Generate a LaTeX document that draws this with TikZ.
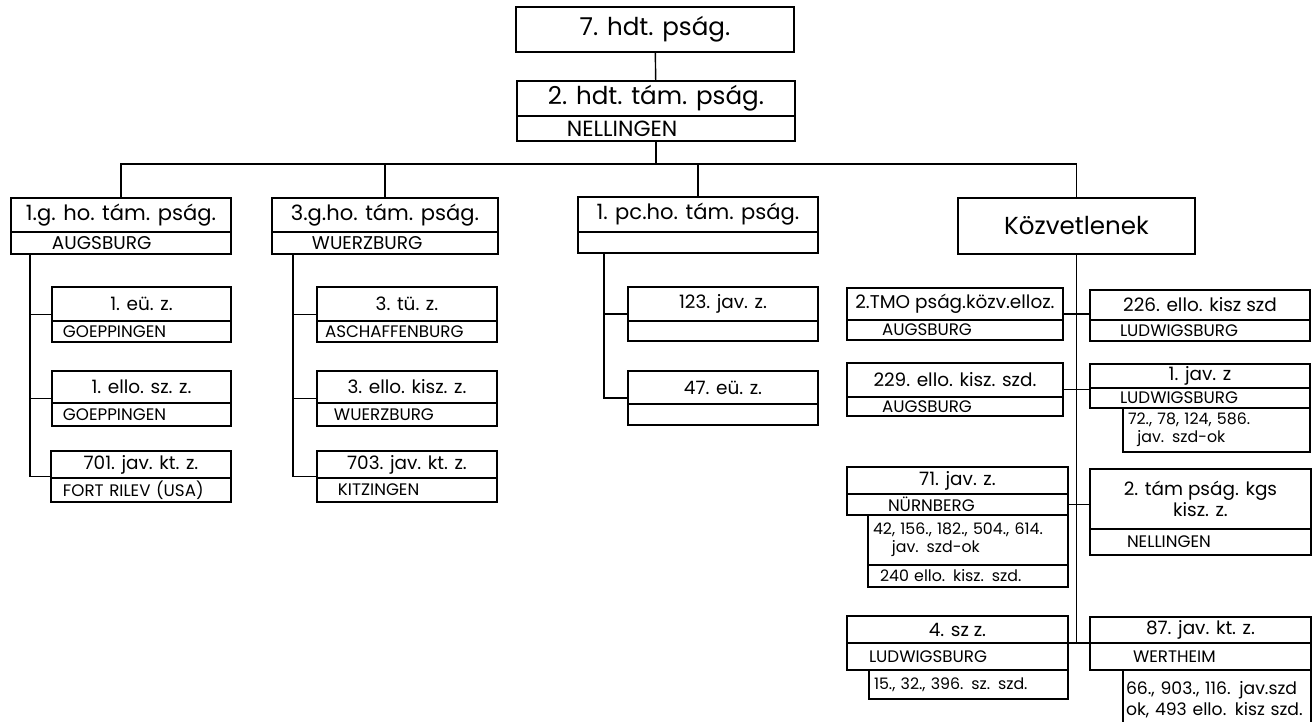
\documentclass[tikz,border=0pt]{standalone}
\usepackage{fontspec}
\setmainfont{Poppins}
\usetikzlibrary{positioning,fit}

\begin{document}
\begin{tikzpicture}[
    x=0.02cm, y=-0.02cm,
    box/.style={draw, line width=1.1pt, outer sep=0pt, anchor=north west,
        inner xsep=2pt, inner ysep=0pt, align=center},
    top/.style={box, font=\fontsize{14}{15}\selectfont},
    grp/.style={box, font=\fontsize{12}{13}\selectfont},
    unit/.style={box, font=\fontsize{10.5}{12}\selectfont},
    loc/.style={box, align=left, font=\fontsize{9.5}{11}\selectfont},
    grploc/.style={loc, font=\fontsize{10.5}{12}\selectfont},
    nums/.style={box, anchor=north east, align=left, inner xsep=0.1cm,
        font=\fontsize{9}{10.5}\selectfont},
    wrap/.style={fit=#1, inner sep=0pt, outer sep=0pt},
    wire/.style={line width=0.8pt},
]
\useasboundingbox (0,0) rectangle (1312,722);
\clip (0,0) rectangle (1312,722);

% ---------- top of the tree ----------
\node[top, minimum width=5.56cm, minimum height=0.9cm] (top7) at (516,7) {7. hdt. pság.};
\node[top, minimum width=5.56cm, minimum height=0.7cm] (hdt2) at (517,81) {2. hdt. tám. pság.};
\node[grploc, inner xsep=1.0cm, text width=3.56cm, minimum height=0.5cm,
    font=\fontsize{12.5}{13}\selectfont] (hdt2l) at (hdt2.south west) {NELLINGEN};
\draw[wire] (top7) -- (hdt2);
\coordinate (bus) at ([yshift=-0.46cm]hdt2l.south);
\draw[wire] (hdt2l) -- (bus);

% ---------- group heads ----------
\node[grp, minimum width=4.4cm, minimum height=0.68cm] (g1) at (11,198) {1.g. ho. tám. pság.};
\node[grploc, inner xsep=0.82cm, text width=2.76cm, minimum height=0.44cm] (g1l) at (g1.south west) {AUGSBURG};

\node[grp, minimum width=4.52cm, minimum height=0.68cm] (g3) at (272,198) {3.g.ho. tám. pság.};
\node[grploc, inner xsep=0.8cm, text width=2.92cm, minimum height=0.44cm] (g3l) at (g3.south west) {WUERZBURG};

\node[grp, minimum width=4.8cm, minimum height=0.7cm] (pc1) at (578,197) {1. pc.ho. tám. pság.};
\node[grploc, inner xsep=0.5cm, text width=3.8cm, minimum height=0.42cm] (pc1l) at (pc1.south west) {};

\node[top, minimum width=4.74cm, minimum height=1.12cm] (kozv) at (958,198) {Közvetlenek};

\draw[wire] (g1.north) |- (bus) -| (kozv.north);
\draw[wire] (g3.north) -- (g3.north |- bus);
\draw[wire] (pc1.north) -- (pc1.north |- bus);

% ---------- 1.g.ho column ----------
\node[unit, minimum width=3.58cm, minimum height=0.68cm] (e1) at (52,287) {1. eü. z.};
\node[loc, inner xsep=0.22cm, text width=3.14cm, minimum height=0.42cm] (e1l) at (e1.south west) {GOEPPINGEN};
\node[unit, minimum width=3.58cm, minimum height=0.64cm] (s1) at (52,371) {1. ello. sz. z.};
\node[loc, inner xsep=0.22cm, text width=3.14cm, minimum height=0.46cm] (s1l) at (s1.south west) {GOEPPINGEN};
\node[unit, minimum width=3.6cm, minimum height=0.54cm] (k701) at (51,451) {701. jav. kt. z.};
\node[loc, inner xsep=0.24cm, text width=3.12cm, minimum height=0.48cm] (k701l) at (k701.south west) {FORT RILEV (USA)};
\node[wrap=(e1)(e1l)] (e1f) {};
\node[wrap=(s1)(s1l)] (s1f) {};
\node[wrap=(k701)(k701l)] (k701f) {};

\coordinate (tr1) at ([xshift=0.38cm]g1l.south west);
\draw[wire] (tr1) |- (k701f.west);
\draw[wire] (tr1 |- e1f.west) -- (e1f.west);
\draw[wire] (tr1 |- s1f.west) -- (s1f.west);

% ---------- 3.g.ho column ----------
\node[unit, minimum width=3.6cm, minimum height=0.68cm] (t3) at (317,287) {3. tü. z.};
\node[loc, inner xsep=0.16cm, text width=3.28cm, minimum height=0.42cm] (t3l) at (t3.south west) {ASCHAFFENBURG};
\node[unit, minimum width=3.6cm, minimum height=0.64cm] (k3) at (317,371) {3. ello. kisz. z.};
\node[loc, inner xsep=0.34cm, text width=2.92cm, minimum height=0.46cm] (k3l) at (k3.south west) {WUERZBURG};
\node[unit, minimum width=3.6cm, minimum height=0.54cm] (k703) at (317,451) {703. jav. kt. z.};
\node[loc, inner xsep=0.42cm, text width=2.76cm, minimum height=0.48cm] (k703l) at (k703.south west) {KITZINGEN};
\node[wrap=(t3)(t3l)] (t3f) {};
\node[wrap=(k3)(k3l)] (k3f) {};
\node[wrap=(k703)(k703l)] (k703f) {};

\coordinate (tr2) at ([xshift=0.42cm]g3l.south west);
\draw[wire] (tr2) |- (k703f.west);
\draw[wire] (tr2 |- t3f.west) -- (t3f.west);
\draw[wire] (tr2 |- k3f.west) -- (k3f.west);

% ---------- 1.pc.ho column ----------
\node[unit, minimum width=3.8cm, minimum height=0.68cm] (j123) at (628,287) {123. jav. z.};
\node[loc, inner xsep=0.3cm, text width=3.2cm, minimum height=0.4cm] (j123l) at (j123.south west) {};
\node[unit, minimum width=3.8cm, minimum height=0.66cm] (e47) at (628,371) {47. eü. z.};
\node[loc, inner xsep=0.3cm, text width=3.2cm, minimum height=0.42cm] (e47l) at (e47.south west) {};
\node[wrap=(j123)(j123l)] (j123f) {};
\node[wrap=(e47)(e47l)] (e47f) {};

\coordinate (tr3) at ([xshift=0.52cm]pc1l.south west);
\draw[wire] (tr3) |- (e47f.west);
\draw[wire] (tr3 |- j123f.west) -- (j123f.west);

% ---------- Közvetlenek ----------
\node[unit, minimum width=4.32cm, minimum height=0.64cm] (tmo) at (847,288) {2.TMO pság.közv.elloz.};
\node[loc, inner xsep=0.7cm, text width=2.92cm, minimum height=0.4cm] (tmol) at (tmo.south west) {AUGSBURG};
\node[unit, minimum width=4.4cm, minimum height=0.6cm] (k226) at (1090,290) {226. ello. kisz szd};
\node[loc, inner xsep=0.6cm, text width=3.2cm, minimum height=0.42cm] (k226l) at (k226.south west) {LUDWIGSBURG};

\node[unit, minimum width=4.32cm, minimum height=0.68cm] (k229) at (847,363) {229. ello. kisz. szd.};
\node[loc, inner xsep=0.7cm, text width=2.92cm, minimum height=0.38cm] (k229l) at (k229.south west) {AUGSBURG};
\node[unit, minimum width=4.4cm, minimum height=0.48cm] (j1) at (1090,364) {1. jav. z};
\node[loc, inner xsep=0.6cm, text width=3.2cm, minimum height=0.4cm] (j1l) at (j1.south west) {LUDWIGSBURG};
\node[nums, text width=3.54cm, minimum height=0.88cm] (j1n) at (j1l.south east) {72., 78, 124, 586.\\\hspace*{0.6em}jav. szd-ok};

\node[unit, minimum width=4.42cm, minimum height=0.54cm] (j71) at (847,467) {71. jav. z.};
\node[loc, inner xsep=0.82cm, text width=2.78cm, minimum height=0.42cm] (j71l) at (j71.south west) {NÜRNBERG};
\node[nums, text width=3.8cm, minimum height=1.0cm] (j71n) at (j71l.south east) {42, 156., 182., 504., 614.\\\hspace*{1.2em}jav. szd-ok};
\node[nums, inner xsep=0.24cm, text width=3.52cm, minimum height=0.44cm] (j71k) at (j71n.south east) {240 ello. kisz. szd.};
\node[unit, minimum width=4.42cm, minimum height=1.2cm] (tam2) at (1090,469) {2. tám pság. kgs\\kisz. z.};
\node[loc, inner xsep=0.74cm, text width=2.94cm, minimum height=0.52cm] (tam2l) at (tam2.south west) {NELLINGEN};

\node[unit, minimum width=4.42cm, minimum height=0.54cm] (sz4) at (847,616) {4. sz z.};
\node[loc, inner xsep=0.44cm, text width=3.54cm, minimum height=0.54cm] (sz4l) at (sz4.south west) {LUDWIGSBURG};
\node[nums, text width=3.78cm, minimum height=0.58cm] (sz4n) at (sz4l.south east) {15., 32., 396. sz. szd.};
\node[unit, minimum width=4.42cm, minimum height=0.52cm] (j87) at (1090,617) {87. jav. kt. z.};
\node[loc, inner xsep=0.86cm, text width=2.7cm, minimum height=0.54cm] (j87l) at (j87.south west) {WERTHEIM};
\node[nums, inner xsep=0.06cm, text width=3.64cm, minimum height=1.2cm,
    font=\fontsize{9.8}{12}\selectfont] (j87n) at (j87l.south east) {66., 903., 116. jav.szd\\ok, 493 ello. kisz szd.};

\node[wrap=(tmo)(tmol)] (tmof) {};
\node[wrap=(k226)(k226l)] (k226f) {};
\node[wrap=(k229)(k229l)] (k229f) {};
\node[wrap=(j1)(j1l)] (j1f) {};
\node[wrap=(tam2)(tam2l)] (tam2f) {};
\node[wrap=(sz4)(sz4l)] (sz4f) {};
\node[wrap=(j87)(j87l)] (j87f) {};

\draw[wire] (kozv.south) -- (kozv.south |- sz4f.east);
\draw[wire] (tmof.east) -- (tmof.east -| k226f.west);
\draw[wire] (k229f.east) -- (k229f.east -| j1f.west);
\draw[wire] (j71l.east) -- (j71l.east -| tam2f.west);
\draw[wire] (sz4f.east) -- (sz4f.east -| j87f.west);

\end{tikzpicture}
\end{document}
